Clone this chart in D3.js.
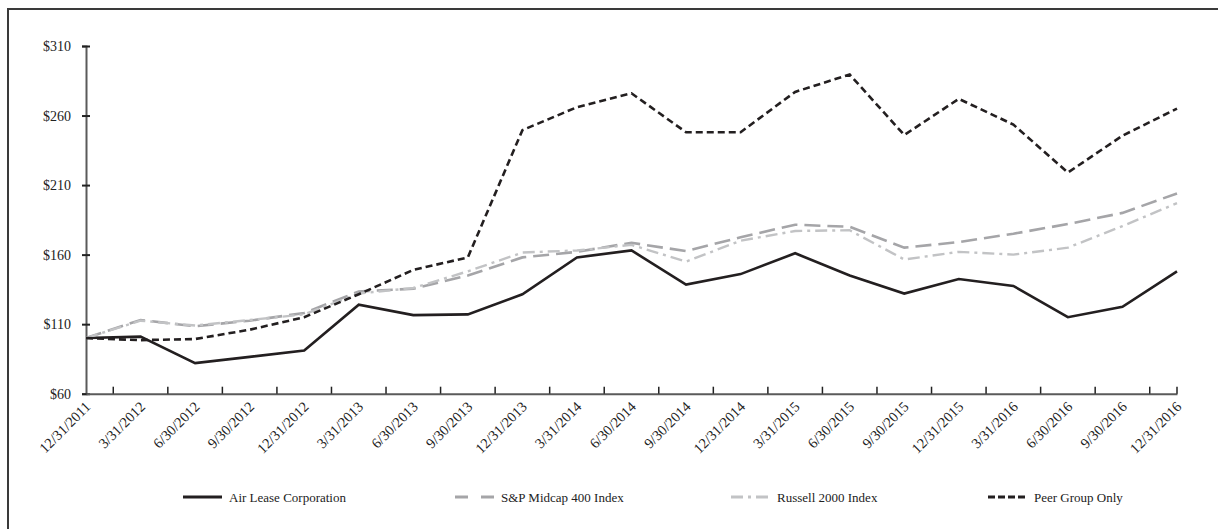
<!DOCTYPE html>
<html>
<head>
<meta charset="utf-8">
<script src="https://cdn.jsdelivr.net/npm/d3@7"></script>
<style>
  body { margin: 0; background: #fff; }
  svg { display: block; font-family: "Liberation Serif", "Times New Roman", serif; }
</style>
</head>
<body>
<svg id="chart"></svg>
<script>
// quarter-end dates
const dates = ["12/31/2011", "3/31/2012", "6/30/2012", "9/30/2012", "12/31/2012", "3/31/2013",
  "6/30/2013", "9/30/2013", "12/31/2013", "3/31/2014", "6/30/2014", "9/30/2014", "12/31/2014",
  "3/31/2015", "6/30/2015", "9/30/2015", "12/31/2015", "3/31/2016", "6/30/2016", "9/30/2016", "12/31/2016"];

const airLease = [100, 101, 82, 86.5, 91, 124, 116.5, 117, 131.5, 158, 163, 138.5, 146, 161, 145, 132, 142.5, 137.5, 115, 122.5, 148];
const spMidcap = [100, 113, 108.5, 112.5, 118, 133.5, 135.5, 145, 158, 162, 168.5, 162.5, 172.5, 181.5, 180, 165, 169, 175, 182, 190, 204];
const russell = [100, 112.5, 109, 113, 117, 132, 136, 148, 161.5, 163, 167, 155, 170, 177, 177.5, 156.5, 162, 160, 165, 180.5, 197];
const peerGroup = [100, 98.5, 99.3, 106, 115, 131.5, 149, 158, 249.5, 266, 276, 248, 248, 277, 289.5, 246, 272, 253.5, 219, 245.5, 265];

const yTicks = [60, 110, 160, 210, 260, 310];

const series = [
  { name: "Air Lease Corporation", values: airLease, color: "#231f20", dash: null, width: 2.6 },
  { name: "S&P Midcap 400 Index", values: spMidcap, color: "#a5a5a8", dash: "16,7", width: 2.6 },
  { name: "Russell 2000 Index", values: russell, color: "#c2c3c5", dash: "12,5,3,5", width: 2.4 },
  { name: "Peer Group Only", values: peerGroup, color: "#231f20", dash: "7,4", width: 2.6 }
];

const W = 1218, H = 529;
const svg = d3.select("#chart").attr("width", W).attr("height", H);

// outer frame (runs off the right and bottom edges)
svg.append("rect")
  .attr("x", 8).attr("y", 9)
  .attr("width", W + 20).attr("height", H + 20)
  .attr("fill", "none").attr("stroke", "#3a3a3a").attr("stroke-width", 2);

const x = d3.scalePoint().domain(dates).range([86, 1177]);
const y = d3.scaleLinear().domain([60, 310]).range([393.7, 46]);

const axisColor = "#5a5a5a";

// y axis
const yAxis = svg.append("g")
  .attr("transform", "translate(86,0)")
  .call(d3.axisLeft(y).tickValues(yTicks).tickFormat(d => "$" + d).tickSize(4).tickPadding(11));
yAxis.select(".domain").attr("stroke", axisColor).attr("stroke-width", 2);
yAxis.selectAll(".tick line").attr("x1", -4).attr("x2", 4).attr("stroke", "#222").attr("stroke-width", 2);
yAxis.selectAll(".tick text").attr("font-size", 14).attr("fill", "#222")
  .attr("font-family", "Liberation Serif, serif");

// x axis
const xAxis = svg.append("g")
  .attr("transform", `translate(0,${y(60)})`)
  .call(d3.axisBottom(x).tickSize(0).tickPadding(0));
xAxis.select(".domain").attr("stroke", axisColor).attr("stroke-width", 2);
xAxis.selectAll(".tick text")
  .attr("font-size", 14.5).attr("fill", "#222")
  .attr("font-family", "Liberation Serif, serif")
  .attr("text-anchor", "end")
  .attr("dy", 0)
  .attr("transform", "translate(5,14) rotate(-45)");

// x tick marks sit between the quarters, plus one at the end
const step = x.step();
const xTickPos = dates.slice(0, -1).map(d => x(d) + step / 2).concat([x(dates[dates.length - 1])]);
svg.append("g").selectAll("line")
  .data(xTickPos).join("line")
  .attr("x1", d => d).attr("x2", d => d)
  .attr("y1", y(60)).attr("y2", y(60) - 7)
  .attr("stroke", "#222").attr("stroke-width", 1.5);

// lines
const line = d3.line().x((d, i) => x(dates[i])).y(d => y(d));
svg.append("g").selectAll("path")
  .data(series).join("path")
  .attr("d", s => line(s.values))
  .attr("fill", "none")
  .attr("stroke", s => s.color)
  .attr("stroke-width", s => s.width)
  .attr("stroke-dasharray", s => s.dash)
  .attr("stroke-linejoin", "miter");

// legend
const legendX = [183, 455, 731, 988];
const legendY = 497;
const lg = svg.append("g").selectAll("g")
  .data(series).join("g")
  .attr("transform", (s, i) => `translate(${legendX[i]},${legendY})`);
lg.append("line")
  .attr("x1", 0).attr("x2", 39).attr("y1", 0).attr("y2", 0)
  .attr("stroke", s => s.color)
  .attr("stroke-width", 2.8)
  .attr("stroke-dasharray", (s, i) => i === 1 ? "13,13" : i === 2 ? "12,5,3,5" : i === 3 ? "7,3" : null);
lg.append("text")
  .attr("x", 46).attr("y", 0).attr("dy", "0.35em")
  .attr("font-size", 13).attr("fill", "#222")
  .text(s => s.name);
</script>
</body>
</html>
